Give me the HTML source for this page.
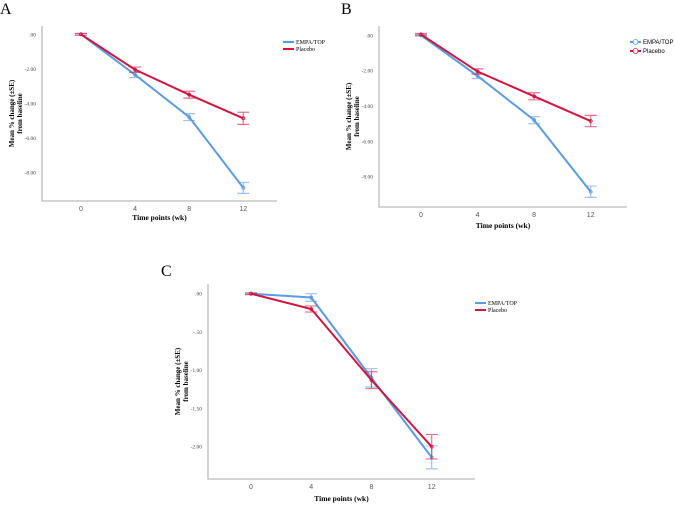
<!DOCTYPE html>
<html><head><meta charset="utf-8"><style>
body{margin:0;background:#fff}
svg{display:block}
text{font-family:"Liberation Serif",serif}
</style></head><body>
<svg id="fig" width="675" height="508" viewBox="0 0 675 508" xmlns="http://www.w3.org/2000/svg"></svg>
<script>
const weeks=[0,4,8,12];
const xTickLabels=["0","4","8","12"];
const seriesNames=["EMPA/TOP","Placebo"];
const aEmpa=[0,-2.35,-4.8,-8.9];
const aEmpaErr=[0.05,0.15,0.2,0.32];
const aPlac=[0,-2.05,-3.5,-4.87];
const aPlacErr=[0.05,0.15,0.2,0.35];
const aTicks=[0,-2,-4,-6,-8];
const aTickLabels=[".00","-2.00","-4.00","-6.00","-8.00"];
const bEmpa=[0,-2.3,-4.8,-8.85];
const bEmpaErr=[0.05,0.15,0.2,0.32];
const bPlac=[0.05,-2.05,-3.45,-4.85];
const bPlacErr=[0.05,0.15,0.2,0.32];
const bTicks=[0,-2,-4,-6,-8];
const bTickLabels=[".00","-2.00","-4.00","-6.00","-8.00"];
const cEmpa=[0,-0.05,-1.1,-2.14];
const cEmpaErr=[0.01,0.05,0.12,0.15];
const cPlac=[0,-0.2,-1.13,-2.0];
const cPlacErr=[0.01,0.04,0.11,0.16];
const cTicks=[0,-0.5,-1,-1.5,-2];
const cTickLabels=[".00","-.50","-1.00","-1.50","-2.00"];

const NS="http://www.w3.org/2000/svg";
const svg=document.getElementById('fig');
function mk(tag,attrs,parent,txt){const e=document.createElementNS(NS,tag);for(const k in attrs)e.setAttribute(k,attrs[k]);if(txt!==undefined)e.textContent=txt;(parent||svg).appendChild(e);return e;}
const BLUE="#5b9be0",RED="#d0163f";
function panel(p){
  const g=mk('g',{});
  
  
  const X=w=>p.x0+(w-weeks[0])/(weeks[3]-weeks[0])*(p.x12-p.x0);
  const Y=v=>p.y0+(v-p.t0)/(p.t1-p.t0)*(p.y1-p.y0);
  const lab=mk('text',{x:p.lx,y:p.ly,'font-size':16},g,p.id);
  
  const ax=mk('path',{d:`M${p.L} ${p.T}V${p.B}H${p.R}`,stroke:'#bbb','stroke-width':1.3,fill:'none'},g);
  
  p.ticks.forEach((t,i)=>{const e=mk('text',{x:p.L-6,y:Y(t)+2,'font-size':5.5,'text-anchor':'end',fill:'#444'},g,p.tickLabels[i]);
    });
  weeks.forEach((w,i)=>{const e=mk('text',{x:X(w),y:p.B+10,'font-size':7,'text-anchor':'middle',fill:'#555',style:'font-family:Liberation Sans,sans-serif'},g,xTickLabels[i]);
    });
  const xt=mk('text',{x:(p.L+p.R)/2,y:p.B+p.xtOff,'font-size':7.5,'font-weight':'bold','text-anchor':'middle'},g,'Time points (wk)');
  
  const cy=(p.T+p.B)/2, cx=p.L-28;
  const yt=mk('text',{transform:`translate(${cx},${cy}) rotate(-90)`,'font-size':7,'font-weight':'bold','text-anchor':'middle'},g);
  
  mk('tspan',{x:0,y:0},yt,'Mean % change (±SE)');mk('tspan',{x:0,y:8},yt,'from baseline');
  [[p.empa,p.empaErr,BLUE,'empa'],[p.plac,p.placErr,RED,'placebo']].forEach(([vals,errs,col,nm])=>{
    const l=mk('polyline',{points:weeks.map((w,i)=>X(w)+','+Y(vals[i])).join(' '),stroke:col,'stroke-width':2,fill:'none'},g);
    
    weeks.forEach((w,i)=>{const x=X(w),ya=Y(vals[i]+errs[i]),yb=Y(vals[i]-errs[i]);
      const e=mk('path',{d:`M${x-6} ${ya}H${x+6}M${x} ${ya}V${yb}M${x-6} ${yb}H${x+6}`,stroke:col,'stroke-opacity':0.6,'stroke-width':1.2,fill:'none'},g);
      
      const c=mk('circle',{cx:x,cy:Y(vals[i]),r:1.5,fill:'none',stroke:col,'stroke-width':0.8},g);
      });
  });
  [[BLUE,0],[RED,1]].forEach(([col,i])=>{
    const y=p.legY+i*p.legDy;
    const lg=mk('g',{},g);
    
    mk('line',{x1:p.legX,x2:p.legX+11,y1:y,y2:y,stroke:col,'stroke-width':2},lg);
    if(p.legCircle)mk('circle',{cx:p.legX+5.5,cy:y,r:2.5,fill:'#fff',stroke:col,'stroke-width':0.8},lg);
    mk('text',{x:p.legX+13,y:y+2,'font-size':6,style:p.legCircle?'font-family:Liberation Sans,sans-serif':''},lg,seriesNames[i]);
  });
}
panel({id:'A',lx:0,ly:14,L:42,R:277,T:26,B:201,x0:81,x12:243.3,y0:34.3,t0:0,y1:172.3,t1:-8,
  ticks:aTicks,tickLabels:aTickLabels,empa:aEmpa,empaErr:aEmpaErr,plac:aPlac,placErr:aPlacErr,xtOff:19,legX:283,legY:42,legDy:7,legCircle:false});
panel({id:'B',lx:341,ly:14,L:379,R:627,T:26,B:207,x0:421,x12:590.7,y0:35.3,t0:0,y1:176.7,t1:-8,
  ticks:bTicks,tickLabels:bTickLabels,empa:bEmpa,empaErr:bEmpaErr,plac:bPlac,placErr:bPlacErr,xtOff:21,legX:630,legY:42,legDy:9,legCircle:true});
panel({id:'C',lx:161,ly:276,L:208,R:475,T:284,B:479,x0:251,x12:431.7,y0:293.7,t0:0,y1:446.7,t1:-2,
  ticks:cTicks,tickLabels:cTickLabels,empa:cEmpa,empaErr:cEmpaErr,plac:cPlac,placErr:cPlacErr,xtOff:22,legX:475,legY:303,legDy:7,legCircle:false});
</script>
</body></html>
